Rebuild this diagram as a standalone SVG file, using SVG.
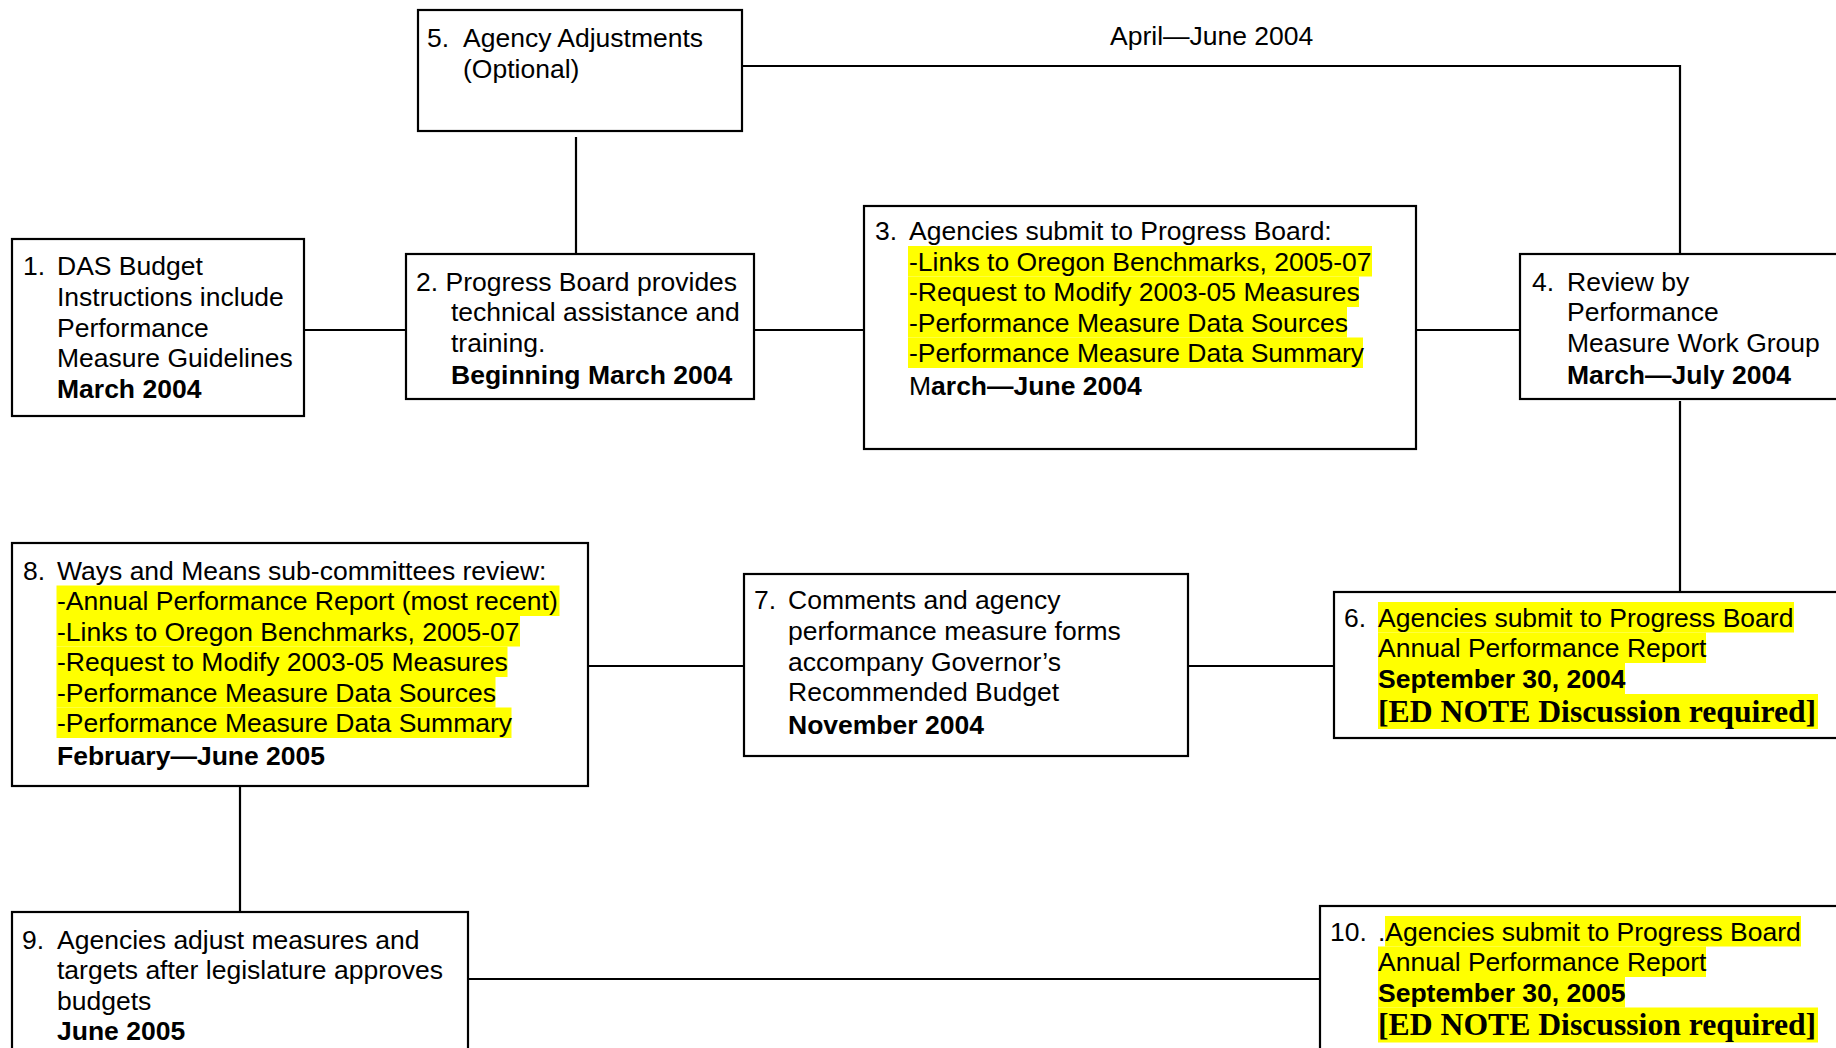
<svg xmlns="http://www.w3.org/2000/svg" width="1836" height="1048" viewBox="0 0 1836 1048">
<style>
  .box { fill: #ffffff; stroke: #000000; stroke-width: 2.2; }
  .conn { fill: none; stroke: #000000; stroke-width: 2.2; }
  .t { font-family: 'Liberation Sans', Arial, sans-serif; font-size: 26.5px; fill: #000000; }
  .b { font-weight: bold; }
  .n { font-weight: normal; }
  .ed { font-family: 'Liberation Serif', 'Times New Roman', serif; font-size: 31.7px; font-weight: bold; fill: #000000; }
  .hl { fill: #ffff00; }
</style>
<rect x="0" y="0" width="1836" height="1048" fill="#ffffff"/>

<g id="connectors">
  <line class="conn" x1="304" y1="330" x2="406" y2="330"/>
  <line class="conn" x1="754" y1="330" x2="864" y2="330"/>
  <line class="conn" x1="1416" y1="330" x2="1520" y2="330"/>
  <path class="conn" d="M742,66 H1680 V254"/>
  <line class="conn" x1="576" y1="137" x2="576" y2="254"/>
  <line class="conn" x1="1680" y1="401" x2="1680" y2="592"/>
  <line class="conn" x1="1188" y1="666" x2="1334" y2="666"/>
  <line class="conn" x1="588" y1="666" x2="744" y2="666"/>
  <line class="conn" x1="240" y1="786" x2="240" y2="912"/>
  <line class="conn" x1="468" y1="979" x2="1320" y2="979"/>
  <text class="t" x="1110" y="44.5">April—June 2004</text>
</g>

<g id="node1">
  <rect class="box" x="12" y="239" width="292" height="177"/>
  <text class="t" x="23" y="275">1.</text>
  <text class="t" x="57" y="275">DAS Budget</text>
  <text class="t" x="57" y="306">Instructions include</text>
  <text class="t" x="57" y="336.5">Performance</text>
  <text class="t" x="57" y="367">Measure Guidelines</text>
  <text class="t b" x="57" y="398">March 2004</text>
</g>

<g id="node2">
  <rect class="box" x="406" y="254" width="348" height="145"/>
  <text class="t" x="416" y="290.5">2. Progress Board provides</text>
  <text class="t" x="451" y="321">technical assistance and</text>
  <text class="t" x="451" y="351.5">training.</text>
  <text class="t b" x="451" y="384">Beginning March 2004</text>
</g>

<g id="node3">
  <rect class="box" x="864" y="206" width="552" height="243"/>
  <rect class="hl" x="908" y="246" width="464" height="30.5"/>
  <rect class="hl" x="908" y="276.5" width="451" height="30.5"/>
  <rect class="hl" x="908" y="307" width="439" height="30.5"/>
  <rect class="hl" x="908" y="337.5" width="455" height="30.5"/>
  <text class="t" x="875" y="240">3.</text>
  <text class="t" x="909" y="240">Agencies submit to Progress Board:</text>
  <text class="t" x="909" y="270.5">-Links to Oregon Benchmarks, 2005-07</text>
  <text class="t" x="909" y="301">-Request to Modify 2003-05 Measures</text>
  <text class="t" x="909" y="331.5">-Performance Measure Data Sources</text>
  <text class="t" x="909" y="362">-Performance Measure Data Summary</text>
  <text class="t" x="909" y="394.5">M<tspan class="b">arch—June 2004</tspan></text>
</g>

<g id="node4">
  <rect class="box" x="1520" y="254" width="330" height="145"/>
  <text class="t" x="1532" y="290.5">4.</text>
  <text class="t" x="1567" y="290.5">Review by</text>
  <text class="t" x="1567" y="321">Performance</text>
  <text class="t" x="1567" y="351.5">Measure Work Group</text>
  <text class="t b" x="1567" y="384">March—July 2004</text>
</g>

<g id="node5">
  <rect class="box" x="418" y="10" width="324" height="121"/>
  <text class="t" x="427" y="47">5.</text>
  <text class="t" x="463" y="47">Agency Adjustments</text>
  <text class="t" x="463" y="78">(Optional)</text>
</g>

<g id="node6">
  <rect class="box" x="1334" y="592" width="516" height="146"/>
  <rect class="hl" x="1378" y="602" width="416" height="30.5"/>
  <rect class="hl" x="1378" y="632.5" width="328" height="30.5"/>
  <rect class="hl" x="1378" y="663" width="247" height="31"/>
  <rect class="hl" x="1378" y="694" width="440" height="35"/>
  <text class="t" x="1344" y="626.5">6.</text>
  <text class="t" x="1378" y="626.5">Agencies submit to Progress Board</text>
  <text class="t" x="1378" y="657">Annual Performance Report</text>
  <text class="t b" x="1378" y="688">September 30, 2004</text>
  <text class="ed" x="1378" y="722">[ED NOTE Discussion required]</text>
</g>

<g id="node7">
  <rect class="box" x="744" y="574" width="444" height="182"/>
  <text class="t" x="754" y="609">7.</text>
  <text class="t" x="788" y="609">Comments and agency</text>
  <text class="t" x="788" y="640">performance measure forms</text>
  <text class="t" x="788" y="670.5">accompany Governor’s</text>
  <text class="t" x="788" y="700.5">Recommended Budget</text>
  <text class="t b" x="788" y="734">November 2004</text>
</g>

<g id="node8">
  <rect class="box" x="12" y="543" width="576" height="243"/>
  <rect class="hl" x="56.5" y="585.5" width="503" height="30.5"/>
  <rect class="hl" x="56.5" y="616" width="463.5" height="30.5"/>
  <rect class="hl" x="56.5" y="646.5" width="451" height="30.5"/>
  <rect class="hl" x="56.5" y="677" width="439" height="30.5"/>
  <rect class="hl" x="56.5" y="707.5" width="455" height="30.5"/>
  <text class="t" x="23" y="579.5">8.</text>
  <text class="t" x="57" y="579.5">Ways and Means sub-committees review:</text>
  <text class="t" x="57" y="610">-Annual Performance Report (most recent)</text>
  <text class="t" x="57" y="640.5">-Links to Oregon Benchmarks, 2005-07</text>
  <text class="t" x="57" y="671">-Request to Modify 2003-05 Measures</text>
  <text class="t" x="57" y="701.5">-Performance Measure Data Sources</text>
  <text class="t" x="57" y="732">-Performance Measure Data Summary</text>
  <text class="t b" x="57" y="765">February—June 2005</text>
</g>

<g id="node9">
  <rect class="box" x="12" y="912" width="456" height="150"/>
  <text class="t" x="22" y="948.5">9.</text>
  <text class="t" x="57" y="948.5">Agencies adjust measures and</text>
  <text class="t" x="57" y="979">targets after legislature approves</text>
  <text class="t" x="57" y="1009.5">budgets</text>
  <text class="t b" x="57" y="1040">June 2005</text>
</g>

<g id="node10">
  <rect class="box" x="1320" y="906" width="530" height="160"/>
  <rect class="hl" x="1385" y="916" width="416" height="30.5"/>
  <rect class="hl" x="1378" y="946.5" width="328" height="30.5"/>
  <rect class="hl" x="1378" y="977" width="247" height="30.5"/>
  <rect class="hl" x="1378" y="1007.5" width="440" height="35"/>
  <text class="t" x="1330" y="940.5">10.</text>
  <text class="t" x="1378" y="940.5">.Agencies submit to Progress Board</text>
  <text class="t" x="1378" y="971">Annual Performance Report</text>
  <text class="t b" x="1378" y="1001.5">September 30, 2005</text>
  <text class="ed" x="1378" y="1035">[ED NOTE Discussion required]</text>
</g>
</svg>
